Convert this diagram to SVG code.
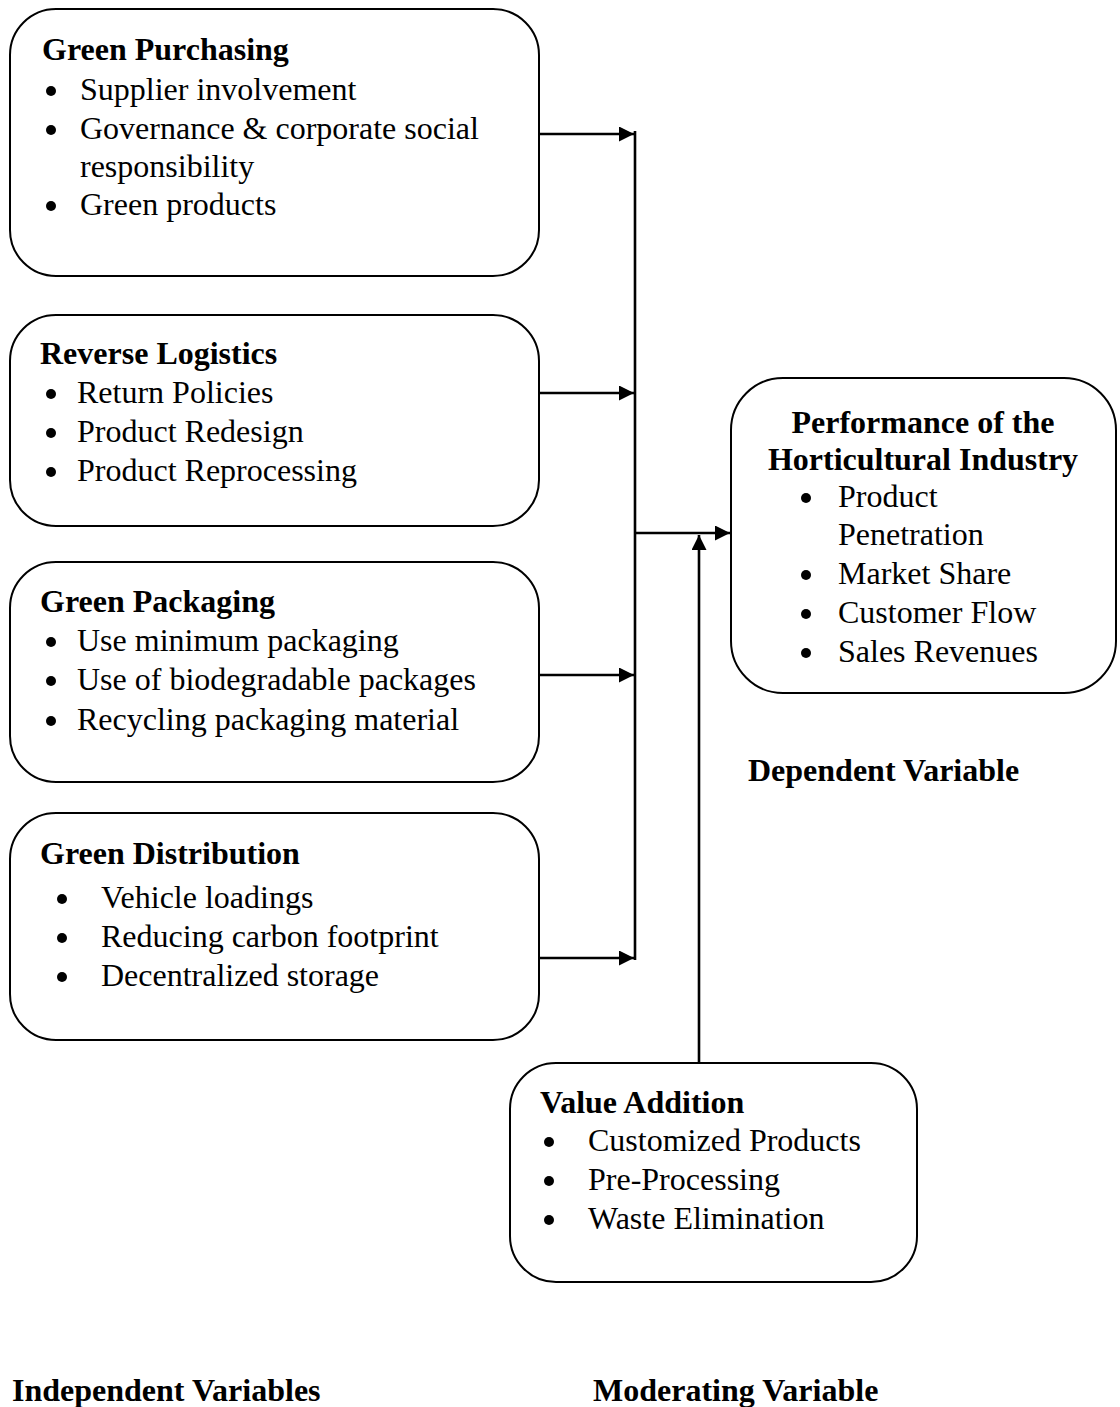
<svg xmlns="http://www.w3.org/2000/svg" width="1120" height="1407" viewBox="0 0 1120 1407">
<style>
.box{fill:#fff;stroke:#000;stroke-width:2}
text{font-family:"Liberation Serif","Times New Roman",serif;font-size:32px;fill:#000}
.b{font-weight:bold}
.dot{fill:#000}
.ln{stroke:#000;stroke-width:2.6;fill:none}
</style>
<defs>
<marker id="ah" viewBox="0 0 15 15" refX="15" refY="7.5" markerWidth="15" markerHeight="15" markerUnits="userSpaceOnUse" orient="auto">
<path d="M0,0 L15,7.5 L0,15 Z" fill="#000"/>
</marker>
</defs>
<rect width="1120" height="1407" fill="#fff"/>

<g id="green-purchasing">
<rect class="box" x="10" y="9" width="529" height="267" rx="46"/>
<text class="b" x="42" y="60">Green Purchasing</text>
<circle class="dot" cx="51" cy="91" r="5"/><text x="80" y="100">Supplier involvement</text>
<circle class="dot" cx="51" cy="130" r="5"/><text x="80" y="139">Governance &amp; corporate social</text>
<text x="80" y="177">responsibility</text>
<circle class="dot" cx="51" cy="206" r="5"/><text x="80" y="215">Green products</text>
</g>

<g id="reverse-logistics">
<rect class="box" x="10" y="315" width="529" height="211" rx="46"/>
<text class="b" x="40" y="364">Reverse Logistics</text>
<circle class="dot" cx="51" cy="394" r="5"/><text x="77" y="403">Return Policies</text>
<circle class="dot" cx="51" cy="433" r="5"/><text x="77" y="442">Product Redesign</text>
<circle class="dot" cx="51" cy="472" r="5"/><text x="77" y="481">Product Reprocessing</text>
</g>

<g id="green-packaging">
<rect class="box" x="10" y="562" width="529" height="220" rx="46"/>
<text class="b" x="40" y="612">Green Packaging</text>
<circle class="dot" cx="51" cy="642" r="5"/><text x="77" y="651">Use minimum packaging</text>
<circle class="dot" cx="51" cy="681" r="5"/><text x="77" y="690">Use of biodegradable packages</text>
<circle class="dot" cx="51" cy="721" r="5"/><text x="77" y="730">Recycling packaging material</text>
</g>

<g id="green-distribution">
<rect class="box" x="10" y="813" width="529" height="227" rx="46"/>
<text class="b" x="40" y="864">Green Distribution</text>
<circle class="dot" cx="62" cy="899" r="5"/><text x="101" y="908">Vehicle loadings</text>
<circle class="dot" cx="62" cy="938" r="5"/><text x="101" y="947">Reducing carbon footprint</text>
<circle class="dot" cx="62" cy="977" r="5"/><text x="101" y="986">Decentralized storage</text>
</g>

<g id="performance">
<rect class="box" x="731" y="378" width="385" height="315" rx="52"/>
<text class="b" x="923" y="433" text-anchor="middle">Performance of the</text>
<text class="b" x="923" y="470" text-anchor="middle">Horticultural Industry</text>
<circle class="dot" cx="806" cy="498" r="5"/><text x="838" y="507">Product</text>
<text x="838" y="545">Penetration</text>
<circle class="dot" cx="806" cy="575" r="5"/><text x="838" y="584">Market Share</text>
<circle class="dot" cx="806" cy="614" r="5"/><text x="838" y="623">Customer Flow</text>
<circle class="dot" cx="806" cy="653" r="5"/><text x="838" y="662">Sales Revenues</text>
</g>

<g id="value-addition">
<rect class="box" x="510" y="1063" width="407" height="219" rx="46"/>
<text class="b" x="540" y="1113">Value Addition</text>
<circle class="dot" cx="549" cy="1142" r="5"/><text x="588" y="1151">Customized Products</text>
<circle class="dot" cx="549" cy="1181" r="5"/><text x="588" y="1190">Pre-Processing</text>
<circle class="dot" cx="549" cy="1220" r="5"/><text x="588" y="1229">Waste Elimination</text>
</g>

<g id="labels">
<text class="b" x="748" y="781">Dependent Variable</text>
<text class="b" x="12" y="1401">Independent Variables</text>
<text class="b" x="593" y="1401">Moderating Variable</text>
</g>

<g id="connectors">
<line class="ln" x1="539" y1="134" x2="634" y2="134" marker-end="url(#ah)"/>
<line class="ln" x1="539" y1="393" x2="634" y2="393" marker-end="url(#ah)"/>
<line class="ln" x1="539" y1="675" x2="634" y2="675" marker-end="url(#ah)"/>
<line class="ln" x1="539" y1="958" x2="634" y2="958" marker-end="url(#ah)"/>
<line class="ln" x1="635" y1="131" x2="635" y2="960"/>
<line class="ln" x1="635" y1="533" x2="730" y2="533" marker-end="url(#ah)"/>
<line class="ln" x1="699" y1="1063" x2="699" y2="535" marker-end="url(#ah)"/>
</g>
</svg>
